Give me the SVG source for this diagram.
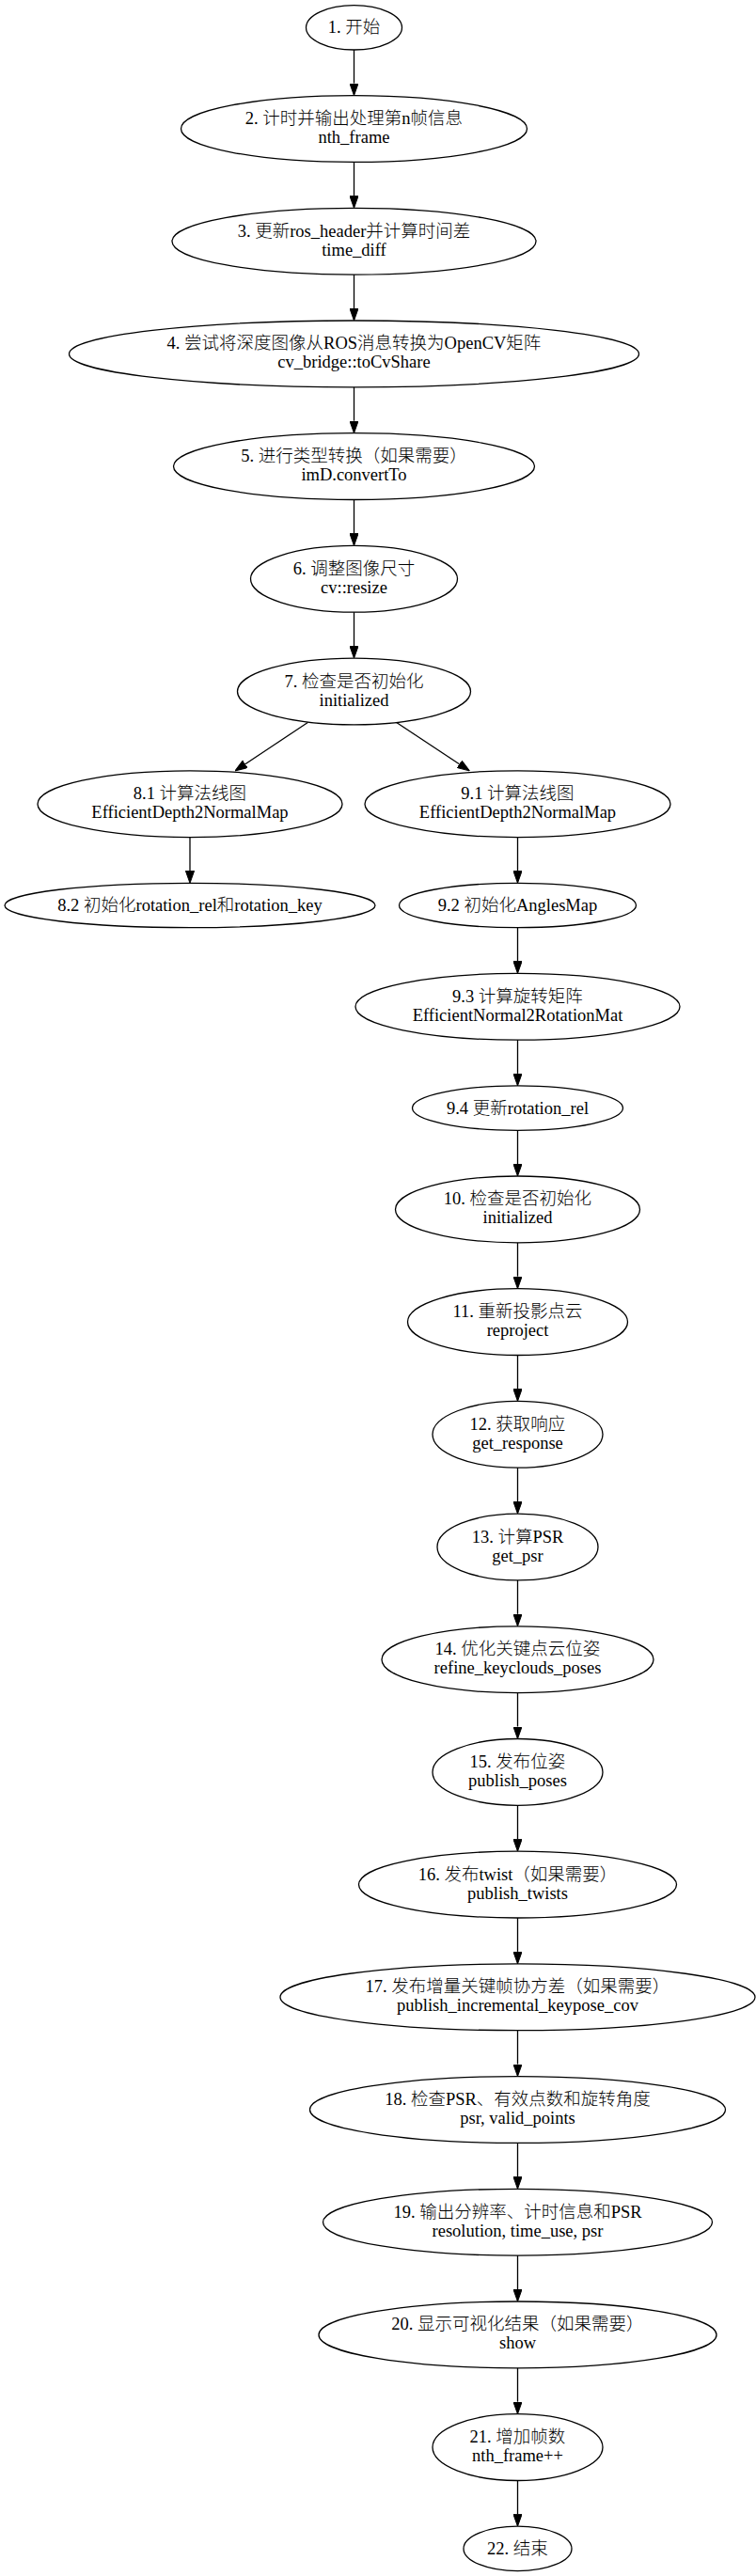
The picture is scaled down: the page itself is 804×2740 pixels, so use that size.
<svg xmlns="http://www.w3.org/2000/svg" width="804" height="2740" viewBox="0 0 804 2740">
<style>
.n ellipse{fill:none;stroke:#000;stroke-width:1.3}
.n text{font-family:"Liberation Serif","Noto Sans CJK SC",serif;font-size:18.5px;font-weight:300;text-anchor:middle;fill:#000}
.e line{stroke:#000;stroke-width:1.3;fill:none;marker-end:url(#ah)}
</style>
<defs>
<marker id="ah" markerUnits="userSpaceOnUse" viewBox="0 0 13 9.2" refX="0" refY="4.6" markerWidth="13" markerHeight="9.2" orient="auto">
<path d="M0,0 L13,4.6 L0,9.2 Z" fill="#000" stroke="#000" stroke-width="1"/>
</marker>
</defs>
<rect width="804" height="2740" fill="#fff"/>
<g id="connectors" class="e">
<line x1="376.5" y1="53" x2="376.5" y2="88.6"/>
<line x1="376.5" y1="172.4" x2="376.5" y2="208.3"/>
<line x1="376.5" y1="292.1" x2="376.5" y2="328"/>
<line x1="376.5" y1="411.8" x2="376.5" y2="447.7"/>
<line x1="376.5" y1="531.5" x2="376.5" y2="567.4"/>
<line x1="376.5" y1="651.2" x2="376.5" y2="687.1"/>
<line x1="327.3" y1="768.5" x2="260.8" y2="812.7"/>
<line x1="421.7" y1="768.5" x2="488.5" y2="812.7"/>
<line x1="202" y1="890.6" x2="202" y2="926.3"/>
<line x1="550.5" y1="890.6" x2="550.5" y2="926.3"/>
<line x1="550.5" y1="986.7" x2="550.5" y2="1022.4"/>
<line x1="550.5" y1="1106.2" x2="550.5" y2="1141.9"/>
<line x1="550.5" y1="1202.3" x2="550.5" y2="1238"/>
<line x1="550.5" y1="1321.8" x2="550.5" y2="1357.7"/>
<line x1="550.5" y1="1441.5" x2="550.5" y2="1477.4"/>
<line x1="550.5" y1="1561.2" x2="550.5" y2="1597.1"/>
<line x1="550.5" y1="1680.9" x2="550.5" y2="1716.8"/>
<line x1="550.5" y1="1800.6" x2="550.5" y2="1836.5"/>
<line x1="550.5" y1="1920.3" x2="550.5" y2="1956.2"/>
<line x1="550.5" y1="2040" x2="550.5" y2="2075.9"/>
<line x1="550.5" y1="2159.7" x2="550.5" y2="2195.6"/>
<line x1="550.5" y1="2279.4" x2="550.5" y2="2315.3"/>
<line x1="550.5" y1="2399.1" x2="550.5" y2="2435"/>
<line x1="550.5" y1="2518.8" x2="550.5" y2="2554.7"/>
<line x1="550.5" y1="2638.5" x2="550.5" y2="2674.2"/>
</g>
<g id="n1" class="n"><ellipse cx="376.5" cy="29.3" rx="51" ry="23.7"/><text x="376.5" y="35">1. 开始</text></g>
<g id="n2" class="n"><ellipse cx="376.5" cy="137" rx="184" ry="35.4"/><text x="376.5" y="132">2. 计时并输出处理第n帧信息</text><text x="376.5" y="152">nth_frame</text></g>
<g id="n3" class="n"><ellipse cx="376.5" cy="256.7" rx="193.5" ry="35.4"/><text x="376.5" y="251.7">3. 更新ros_header并计算时间差</text><text x="376.5" y="271.7">time_diff</text></g>
<g id="n4" class="n"><ellipse cx="376.5" cy="376.4" rx="303" ry="35.4"/><text x="376.5" y="371.4">4. 尝试将深度图像从ROS消息转换为OpenCV矩阵</text><text x="376.5" y="391.4">cv_bridge::toCvShare</text></g>
<g id="n5" class="n"><ellipse cx="376.5" cy="496.1" rx="192" ry="35.4"/><text x="376.5" y="491.1">5. 进行类型转换（如果需要）</text><text x="376.5" y="511.1">imD.convertTo</text></g>
<g id="n6" class="n"><ellipse cx="376.5" cy="615.8" rx="110" ry="35.4"/><text x="376.5" y="610.8">6. 调整图像尺寸</text><text x="376.5" y="630.8">cv::resize</text></g>
<g id="n7" class="n"><ellipse cx="376.5" cy="735.5" rx="124" ry="35.4"/><text x="376.5" y="730.5">7. 检查是否初始化</text><text x="376.5" y="750.5">initialized</text></g>
<g id="n8_1" class="n"><ellipse cx="202" cy="855.2" rx="162" ry="35.4"/><text x="202" y="850.2">8.1 计算法线图</text><text x="202" y="870.2">EfficientDepth2NormalMap</text></g>
<g id="n8_2" class="n"><ellipse cx="202" cy="963" rx="197" ry="23.7"/><text x="202" y="969">8.2 初始化rotation_rel和rotation_key</text></g>
<g id="n9_1" class="n"><ellipse cx="550.5" cy="855.2" rx="162.5" ry="35.4"/><text x="550.5" y="850.2">9.1 计算法线图</text><text x="550.5" y="870.2">EfficientDepth2NormalMap</text></g>
<g id="n9_2" class="n"><ellipse cx="550.5" cy="963" rx="126" ry="23.7"/><text x="550.5" y="969">9.2 初始化AnglesMap</text></g>
<g id="n9_3" class="n"><ellipse cx="550.5" cy="1070.8" rx="172.5" ry="35.4"/><text x="550.5" y="1065.8">9.3 计算旋转矩阵</text><text x="550.5" y="1085.8">EfficientNormal2RotationMat</text></g>
<g id="n9_4" class="n"><ellipse cx="550.5" cy="1178.6" rx="112" ry="23.7"/><text x="550.5" y="1184.6">9.4 更新rotation_rel</text></g>
<g id="n10" class="n"><ellipse cx="550.5" cy="1286.4" rx="130" ry="35.4"/><text x="550.5" y="1281.4">10. 检查是否初始化</text><text x="550.5" y="1301.4">initialized</text></g>
<g id="n11" class="n"><ellipse cx="550.5" cy="1406.1" rx="117" ry="35.4"/><text x="550.5" y="1401.1">11. 重新投影点云</text><text x="550.5" y="1421.1">reproject</text></g>
<g id="n12" class="n"><ellipse cx="550.5" cy="1525.8" rx="90.5" ry="35.4"/><text x="550.5" y="1520.8">12. 获取响应</text><text x="550.5" y="1540.8">get_response</text></g>
<g id="n13" class="n"><ellipse cx="550.5" cy="1645.5" rx="85.5" ry="35.4"/><text x="550.5" y="1640.5">13. 计算PSR</text><text x="550.5" y="1660.5">get_psr</text></g>
<g id="n14" class="n"><ellipse cx="550.5" cy="1765.2" rx="144.5" ry="35.4"/><text x="550.5" y="1760.2">14. 优化关键点云位姿</text><text x="550.5" y="1780.2">refine_keyclouds_poses</text></g>
<g id="n15" class="n"><ellipse cx="550.5" cy="1884.9" rx="90.5" ry="35.4"/><text x="550.5" y="1879.9">15. 发布位姿</text><text x="550.5" y="1899.9">publish_poses</text></g>
<g id="n16" class="n"><ellipse cx="550.5" cy="2004.6" rx="169" ry="35.4"/><text x="550.5" y="1999.6">16. 发布twist（如果需要）</text><text x="550.5" y="2019.6">publish_twists</text></g>
<g id="n17" class="n"><ellipse cx="550.5" cy="2124.3" rx="252.5" ry="35.4"/><text x="550.5" y="2119.3">17. 发布增量关键帧协方差（如果需要）</text><text x="550.5" y="2139.3">publish_incremental_keypose_cov</text></g>
<g id="n18" class="n"><ellipse cx="550.5" cy="2244" rx="221" ry="35.4"/><text x="550.5" y="2239">18. 检查PSR、有效点数和旋转角度</text><text x="550.5" y="2259">psr, valid_points</text></g>
<g id="n19" class="n"><ellipse cx="550.5" cy="2363.7" rx="207" ry="35.4"/><text x="550.5" y="2358.7">19. 输出分辨率、计时信息和PSR</text><text x="550.5" y="2378.7">resolution, time_use, psr</text></g>
<g id="n20" class="n"><ellipse cx="550.5" cy="2483.4" rx="211.5" ry="35.4"/><text x="550.5" y="2478.4">20. 显示可视化结果（如果需要）</text><text x="550.5" y="2498.4">show</text></g>
<g id="n21" class="n"><ellipse cx="550.5" cy="2603.1" rx="90.5" ry="35.4"/><text x="550.5" y="2598.1">21. 增加帧数</text><text x="550.5" y="2618.1">nth_frame++</text></g>
<g id="n22" class="n"><ellipse cx="550.5" cy="2710.9" rx="57.5" ry="23.7"/><text x="550.5" y="2716.9">22. 结束</text></g>
</svg>
